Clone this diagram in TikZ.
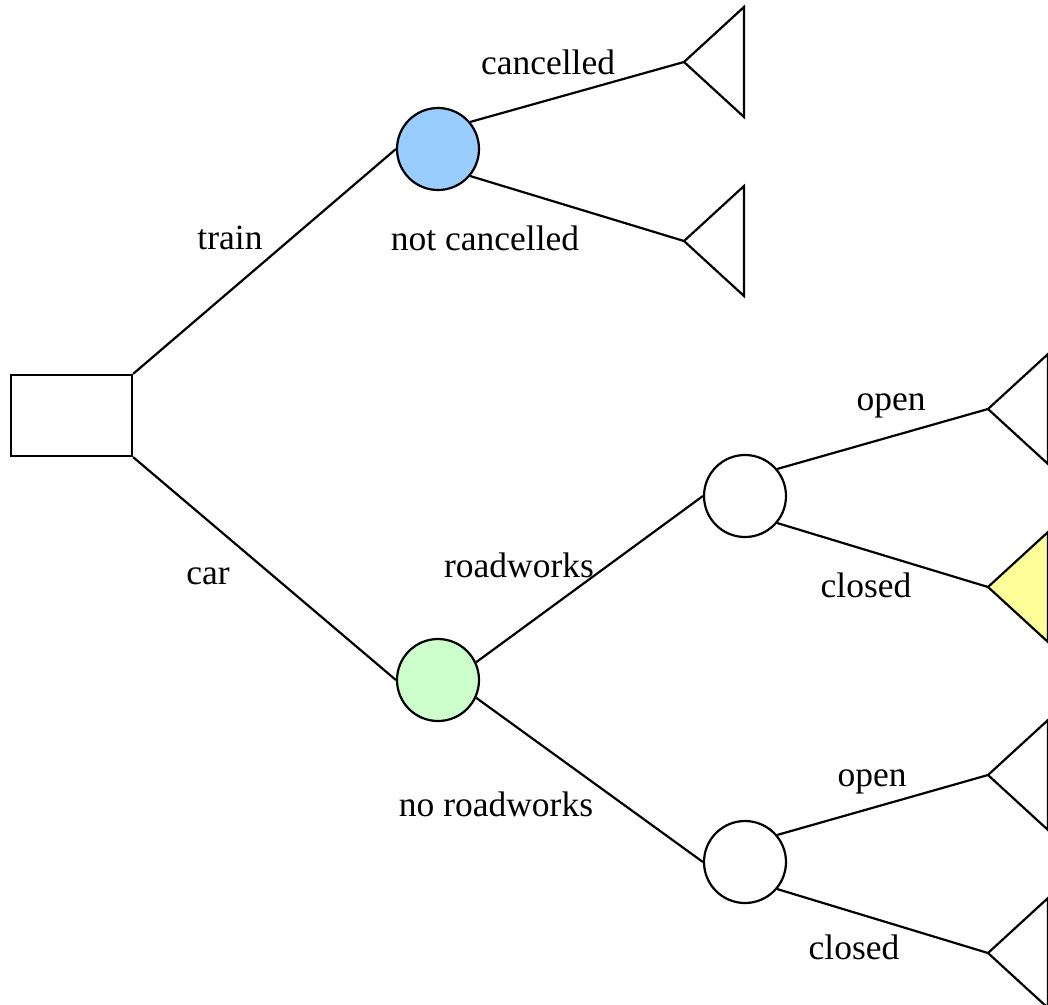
\documentclass[tikz,border=0pt]{standalone}
\usepackage{fontspec}
\setmainfont{Liberation Serif}
\begin{document}
\begin{tikzpicture}[x=1pt,y=-1pt,
  line width=2.2pt,
  chance/.style={circle,draw,minimum size=82pt,inner sep=0pt},
  decision/.style={draw,minimum width=121pt,minimum height=81pt,inner sep=0pt},
  lbl/.style={font=\fontsize{35.5}{40}\selectfont,inner sep=0pt}]
\useasboundingbox (0,0) rectangle (1048,1004);
% nodes
\node[decision] (d) at (71.5,415.5) {};
\node[chance,fill={rgb,255:red,153;green,204;blue,255}] (train) at (438,149) {};
\node[chance,fill={rgb,255:red,204;green,255;blue,204}] (car) at (438,680) {};
\node[chance] (rw) at (745,496) {};
\node[chance] (norw) at (745,862) {};
% terminal tips
\coordinate (t1) at (684,62);
\coordinate (t2) at (684,241);
\coordinate (t3) at (988,409);
\coordinate (t4) at (988,587);
\coordinate (t5) at (988,775);
\coordinate (t6) at (988,953);
% terminals
\draw[line join=miter] (t1) -- ++(60,-55) -- ++(0,110) -- cycle;
\draw[line join=miter] (t2) -- ++(60,-55) -- ++(0,110) -- cycle;
\draw[line join=miter] (t3) -- ++(60,-55) -- ++(0,110) -- cycle;
\draw[line join=miter,fill={rgb,255:red,255;green,255;blue,153}] (t4) -- ++(60,-55) -- ++(0,110) -- cycle;
\draw[line join=miter] (t5) -- ++(60,-55) -- ++(0,110) -- cycle;
\draw[line join=miter] (t6) -- ++(60,-55) -- ++(0,110) -- cycle;
% connectors
\draw (d.north east) -- (train.west);
\draw (d.south east) -- (car.west);
\draw (train.40) -- (t1);
\draw (train.-40) -- (t2);
\draw (car.25) -- (rw.west);
\draw (car.-25) -- (norw.west);
\draw (rw.40) -- (t3);
\draw (rw.-40) -- (t4);
\draw (norw.40) -- (t5);
\draw (norw.-40) -- (t6);
% labels
\node[lbl] (l1) at (548,62) {cancelled};
\node[lbl] (l2) at (485,238) {not cancelled};
\node[lbl] (l3) at (230,238) {train};
\node[lbl] (l4) at (208,576) {car};
\node[lbl] (l5) at (519,565) {roadworks};
\node[lbl] (l6) at (496,804) {no roadworks};
\node[lbl] (l7) at (891,406) {open};
\node[lbl] (l8) at (866,585) {closed};
\node[lbl] (l9) at (872,782) {open};
\node[lbl] (l10) at (854,947) {closed};
\end{tikzpicture}
\end{document}
